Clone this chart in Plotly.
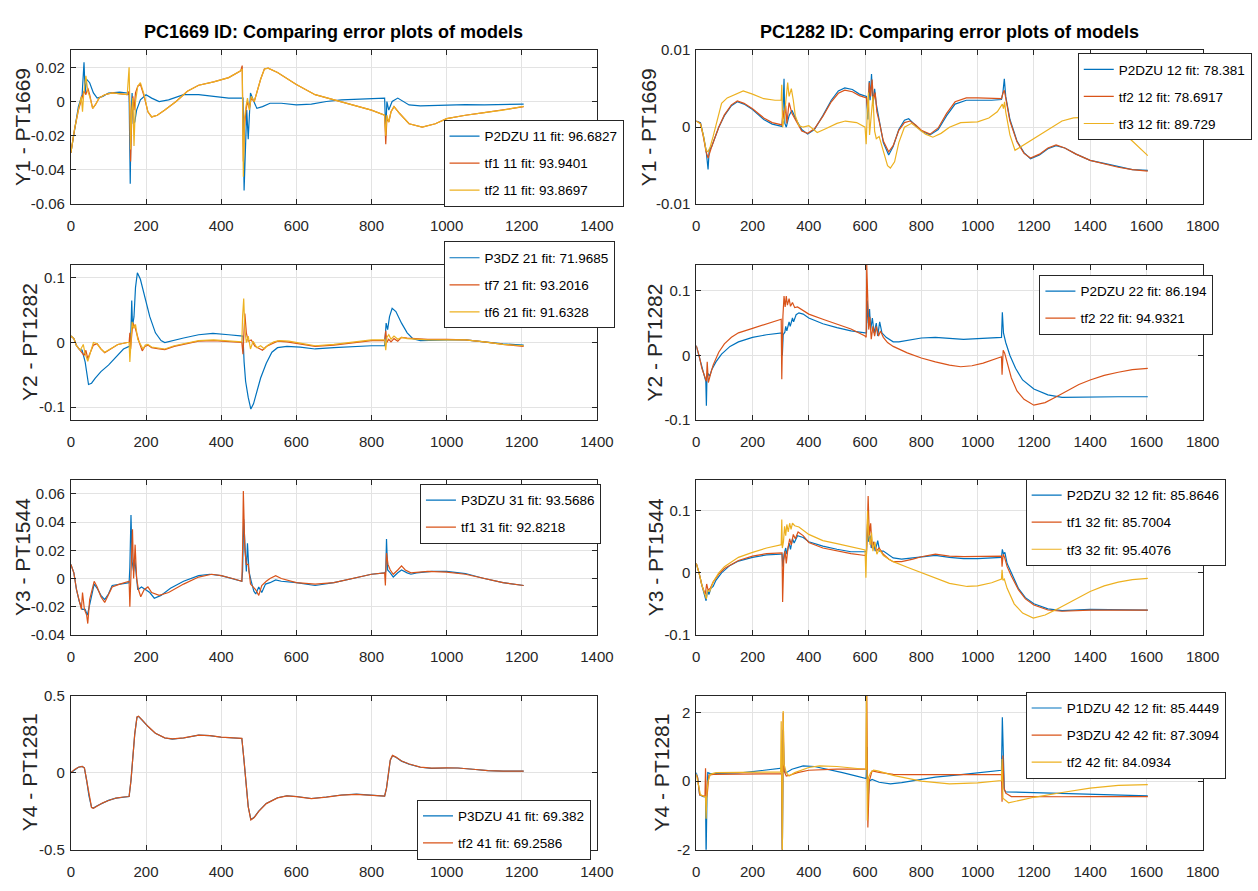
import plotly.graph_objects as go

# ---------------- tick labels ----------------
x_ticks_left = [0, 200, 400, 600, 800, 1000, 1200, 1400]
x_ticks_right = [0, 200, 400, 600, 800, 1000, 1200, 1400, 1600, 1800]
y1l_ticks = [-0.06, -0.04, -0.02, 0, 0.02]
y1l_text = ["-0.06", "-0.04", "-0.02", "0", "0.02"]
y1r_ticks = [-0.01, 0, 0.01]
y1r_text = ["-0.01", "0", "0.01"]
y2l_ticks = [-0.1, 0, 0.1]
y2l_text = ["-0.1", "0", "0.1"]
y2r_ticks = [-0.1, 0, 0.1]
y2r_text = ["-0.1", "0", "0.1"]
y3l_ticks = [-0.04, -0.02, 0, 0.02, 0.04, 0.06]
y3l_text = ["-0.04", "-0.02", "0", "0.02", "0.04", "0.06"]
y3r_ticks = [-0.1, 0, 0.1]
y3r_text = ["-0.1", "0", "0.1"]
y4l_ticks = [-0.5, 0, 0.5]
y4l_text = ["-0.5", "0", "0.5"]
y4r_ticks = [-2, 0, 2]
y4r_text = ["-2", "0", "2"]

# ---------------- Row 1 left : Y1 - PT1669 (PC1669) ----------------
r1l_p2dzu_x = [0, 10, 20, 30, 35, 38, 42, 50, 60, 70, 85, 100, 130, 150, 155, 158, 160, 163, 166, 170, 175, 185, 200, 215, 235, 260, 300, 340, 380, 420, 455, 458, 461, 464, 468, 472, 478, 485, 495, 510, 530, 560, 600, 640, 680, 720, 780, 835, 838, 841, 846, 855, 870, 885, 900, 930, 1000, 1050, 1100, 1150, 1205]
r1l_p2dzu_y = [-0.030, -0.015, -0.003, 0.004, 0.023, 0.005, 0.013, 0.011, 0.005, 0.002, 0.003, 0.005, 0.0055, 0.005, 0.004, -0.048, -0.010, 0.005, -0.013, -0.012, -0.005, 0.001, 0.004, 0.002, 0.000, 0.001, 0.004, 0.004, 0.003, 0.002, 0.002, 0.002, -0.052, -0.030, -0.005, -0.022, 0.005, 0.001, -0.004, -0.003, -0.001, -0.001, -0.002, -0.0015, 0.000, 0.001, 0.0015, 0.002, -0.018, 0.000, -0.005, 0.000, 0.002, 0.000, -0.002, -0.0025, -0.002, -0.0018, -0.002, -0.0017, -0.0015]
r1l_tf1_x = [0, 10, 20, 30, 35, 40, 45, 50, 58, 65, 75, 90, 110, 150, 155, 157, 159, 162, 165, 168, 172, 178, 185, 195, 205, 215, 230, 250, 280, 310, 340, 380, 420, 452, 456, 459, 462, 466, 470, 475, 480, 488, 495, 505, 515, 525, 550, 600, 650, 700, 750, 800, 835, 838, 841, 846, 852, 860, 875, 900, 935, 970, 1000, 1050, 1100, 1150, 1205]
r1l_tf1_y = [-0.030, -0.016, -0.005, 0.002, 0.006, 0.004, 0.008, 0.004, -0.004, -0.002, 0.002, 0.004, 0.005, 0.004, 0.006, -0.005, -0.035, -0.010, 0.003, -0.005, 0.005, 0.009, 0.010, 0.003, -0.006, -0.009, -0.008, -0.005, 0.000, 0.006, 0.0095, 0.0115, 0.014, 0.018, 0.021, -0.035, -0.015, -0.005, 0.000, -0.004, 0.002, 0.000, 0.006, 0.013, 0.019, 0.0195, 0.017, 0.010, 0.004, 0.001, -0.002, -0.005, -0.008, -0.025, -0.010, -0.012, -0.006, -0.003, -0.007, -0.013, -0.015, -0.013, -0.010, -0.008, -0.0065, -0.005, -0.003]
r1l_tf2_x = [0, 10, 20, 28, 31, 34, 40, 45, 50, 58, 65, 75, 90, 110, 150, 155, 157, 159, 162, 165, 168, 172, 178, 185, 195, 205, 215, 230, 250, 280, 310, 340, 380, 420, 452, 456, 459, 462, 466, 470, 475, 480, 488, 495, 505, 515, 525, 550, 600, 650, 700, 750, 800, 835, 838, 841, 846, 852, 860, 875, 900, 935, 970, 1000, 1050, 1100, 1150, 1205]
r1l_tf2_y = [-0.030, -0.016, -0.005, 0.003, -0.006, 0.004, 0.015, 0.006, 0.003, -0.004, -0.002, 0.002, 0.004, 0.005, 0.004, 0.020, -0.003, -0.028, -0.005, 0.002, -0.026, 0.000, 0.009, 0.011, 0.004, -0.006, -0.009, -0.008, -0.005, 0.000, 0.006, 0.0095, 0.0115, 0.014, 0.018, 0.019, -0.044, -0.010, -0.003, 0.002, -0.005, 0.003, 0.000, 0.006, 0.013, 0.019, 0.0195, 0.017, 0.010, 0.004, 0.001, -0.002, -0.005, -0.008, -0.020, -0.008, -0.012, -0.006, -0.003, -0.007, -0.013, -0.015, -0.013, -0.010, -0.008, -0.0065, -0.005, -0.0028]

# ---------------- Row 1 right : Y1 - PT1669 (PC1282) ----------------
r1r_p2dzu_x = [0, 15, 25, 35, 42, 46, 55, 65, 80, 100, 125, 146, 170, 200, 240, 270, 300, 305, 308, 312, 315, 320, 330, 340, 355, 375, 396, 420, 450, 480, 505, 528, 555, 580, 605, 610, 615, 618, 623, 628, 634, 640, 650, 665, 684, 700, 720, 740, 755, 775, 800, 831, 860, 890, 920, 960, 1000, 1050, 1085, 1090, 1095, 1100, 1115, 1140, 1165, 1188, 1220, 1250, 1279, 1310, 1350, 1400, 1450, 1500, 1550, 1605]
r1r_p2dzu_y = [0.0008, 0.0006, -0.001, -0.003, -0.0055, -0.003, -0.0025, -0.0015, 0.0, 0.0015, 0.0028, 0.0033, 0.003, 0.0023, 0.001, 0.0004, 0.0002, 0.0001, 0.002, 0.0063, 0.0005, 0.0, 0.0015, 0.0022, 0.001, -0.0003, -0.0009, -0.0003, 0.0015, 0.0035, 0.0047, 0.0051, 0.0049, 0.0043, 0.004, 0.001, 0.006, 0.0035, 0.0069, 0.003, 0.005, 0.003, 0.001, -0.002, -0.0036, -0.0025, -0.0003, 0.0009, 0.0011, 0.0004, -0.0005, -0.0010, -0.0003, 0.0015, 0.003, 0.0035, 0.0035, 0.0035, 0.0036, 0.0045, 0.0063, 0.004, 0.001, -0.0018, -0.0033, -0.0041, -0.0036, -0.0028, -0.0024, -0.0027, -0.0035, -0.0043, -0.0047, -0.0051, -0.0055, -0.0056]
r1r_tf2_x = [0, 15, 25, 35, 42, 46, 55, 65, 80, 100, 125, 146, 170, 200, 240, 270, 300, 305, 308, 312, 318, 322, 330, 340, 355, 375, 396, 420, 450, 480, 505, 528, 555, 580, 605, 610, 615, 620, 625, 630, 636, 642, 650, 665, 684, 700, 720, 740, 760, 780, 800, 831, 860, 890, 920, 960, 1000, 1050, 1085, 1090, 1095, 1100, 1115, 1140, 1165, 1188, 1220, 1250, 1279, 1310, 1350, 1400, 1450, 1500, 1550, 1605]
r1r_tf2_y = [0.0008, 0.0005, -0.0012, -0.0032, -0.004, -0.0035, -0.0025, -0.0015, 0.0, 0.0016, 0.0029, 0.0034, 0.0031, 0.0024, 0.0012, 0.0006, 0.0004, 0.0003, 0.0022, 0.001, 0.0028, 0.0005, 0.0032, 0.0018, 0.0008, -0.0005, -0.0008, -0.0002, 0.0014, 0.0033, 0.0044, 0.0048, 0.0046, 0.0041, 0.0038, 0.002, 0.0058, 0.004, 0.0062, 0.0035, 0.0045, 0.002, 0.0008, -0.0018, -0.0032, -0.0024, -0.0004, 0.0006, 0.0008, 0.0003, -0.0004, -0.0009, -0.0001, 0.0018, 0.0033, 0.0038, 0.0038, 0.0037, 0.0037, 0.0044, 0.0048, 0.0038, 0.0008, -0.0019, -0.0034, -0.0040, -0.0035, -0.0027, -0.0023, -0.0027, -0.0035, -0.0043, -0.0048, -0.0052, -0.0055, -0.0057]
r1r_tf3_x = [0, 15, 25, 35, 42, 50, 60, 75, 90, 110, 135, 167, 200, 240, 280, 302, 304, 307, 312, 318, 325, 330, 338, 345, 352, 365, 380, 400, 430, 460, 500, 530, 570, 600, 604, 608, 612, 616, 622, 628, 634, 640, 650, 665, 680, 690, 705, 720, 740, 765, 790, 815, 841, 870, 900, 940, 1000, 1040, 1070, 1088, 1092, 1096, 1100, 1115, 1133, 1160, 1200, 1250, 1300, 1341, 1400, 1450, 1500, 1550, 1605]
r1r_tf3_y = [0.0008, 0.0004, -0.001, -0.003, -0.0032, -0.0025, -0.0012, 0.001, 0.0031, 0.0038, 0.0042, 0.0047, 0.0043, 0.0037, 0.0035, 0.0035, 0.0055, 0.0, 0.001, 0.003, 0.0058, 0.004, 0.005, 0.0035, 0.0015, 0.0002, 0.0, 0.0002, -0.0007, -0.0002, 0.0005, 0.0008, 0.0006, 0.0, -0.0022, 0.002, 0.0045, -0.001, 0.002, 0.004, -0.0005, -0.0015, -0.0012, -0.003, -0.005, -0.0053, -0.0045, -0.002, 0.0, 0.0005, -0.0002, -0.0009, -0.0013, -0.0008, 0.0, 0.0006, 0.0007, 0.0012, 0.002, 0.003, 0.0024, 0.0033, 0.002, -0.001, -0.003, -0.0024, -0.0015, -0.0004, 0.0008, 0.0012, 0.0013, 0.001, -0.0002, -0.0018, -0.0037]

# ---------------- Row 2 left : Y2 - PT1282 (PC1669) ----------------
r2l_p3dz_x = [0, 8, 15, 22, 30, 38, 47, 55, 65, 80, 100, 120, 140, 155, 158, 160, 162, 164, 168, 172, 177, 185, 195, 210, 225, 240, 250, 275, 300, 340, 378, 420, 455, 458, 461, 465, 472, 479, 486, 495, 505, 520, 535, 550, 575, 610, 650, 700, 750, 800, 835, 837, 839, 843, 848, 855, 865, 880, 895, 910, 930, 1000, 1050, 1100, 1150, 1205]
r2l_p3dz_y = [0.010, 0.006, -0.005, -0.010, -0.012, -0.030, -0.065, -0.063, -0.055, -0.045, -0.035, -0.022, -0.010, -0.006, -0.005, 0.020, 0.065, 0.025, 0.040, 0.085, 0.108, 0.098, 0.075, 0.040, 0.015, 0.003, 0.000, 0.003, 0.007, 0.012, 0.014, 0.012, 0.010, 0.010, -0.030, -0.060, -0.085, -0.103, -0.095, -0.075, -0.055, -0.032, -0.015, -0.008, -0.006, -0.007, -0.010, -0.008, -0.006, -0.005, -0.005, 0.010, 0.030, 0.020, 0.040, 0.053, 0.048, 0.030, 0.015, 0.006, 0.003, 0.004, 0.004, 0.001, -0.002, -0.004]
r2l_tf7_x = [0, 8, 15, 25, 35, 40, 45, 52, 60, 70, 80, 90, 105, 125, 150, 155, 157, 159, 162, 165, 170, 176, 182, 190, 197, 205, 215, 235, 250, 275, 300, 340, 380, 420, 455, 458, 461, 463, 467, 472, 480, 490, 500, 510, 520, 535, 550, 575, 610, 650, 700, 750, 800, 835, 838, 841, 846, 852, 860, 870, 880, 895, 920, 950, 1000, 1050, 1100, 1150, 1205]
r2l_tf7_y = [0.010, 0.006, -0.005, -0.012, -0.020, -0.012, -0.025, -0.015, -0.004, -0.002, -0.010, -0.016, -0.010, -0.003, 0.000, 0.000, 0.015, -0.010, 0.012, 0.030, 0.025, 0.010, 0.000, -0.013, -0.006, -0.004, -0.008, -0.010, -0.011, -0.006, -0.003, 0.002, 0.003, 0.002, 0.000, -0.018, 0.030, 0.045, 0.015, 0.002, 0.004, -0.006, -0.009, -0.012, -0.006, -0.002, 0.002, 0.001, -0.002, -0.006, -0.004, 0.000, 0.003, 0.003, 0.018, 0.000, 0.005, 0.001, 0.006, 0.002, 0.008, 0.007, 0.006, 0.005, 0.005, 0.004, 0.001, -0.003, -0.006]
r2l_tf6_x = [0, 8, 15, 25, 33, 37, 45, 52, 60, 70, 80, 90, 105, 125, 150, 155, 157, 160, 163, 167, 172, 178, 185, 192, 198, 205, 215, 235, 250, 275, 300, 340, 380, 420, 455, 457, 460, 463, 467, 472, 478, 485, 495, 505, 515, 525, 540, 555, 580, 610, 650, 700, 750, 800, 835, 838, 841, 846, 852, 860, 870, 880, 895, 920, 950, 1000, 1050, 1100, 1150, 1205]
r2l_tf6_y = [0.010, 0.006, -0.005, -0.012, -0.003, -0.015, -0.029, -0.015, 0.000, -0.002, -0.010, -0.015, -0.010, -0.003, 0.000, 0.000, -0.030, 0.005, 0.032, 0.022, 0.028, 0.005, -0.003, -0.010, -0.004, -0.003, -0.007, -0.009, -0.010, -0.005, -0.002, 0.003, 0.004, 0.003, 0.001, 0.040, 0.068, 0.020, 0.000, 0.010, -0.010, 0.002, -0.008, -0.005, -0.010, -0.004, 0.001, 0.003, 0.002, -0.001, -0.005, -0.003, 0.001, 0.004, 0.004, -0.012, 0.008, 0.012, 0.005, 0.010, 0.005, 0.008, 0.006, 0.005, 0.004, 0.004, 0.004, 0.001, -0.003, -0.005]

# ---------------- Row 2 right : Y2 - PT1282 (PC1282) ----------------
r2r_p2dzu_x = [0, 10, 20, 30, 34, 36, 38, 42, 48, 55, 70, 90, 120, 150, 200, 250, 300, 304, 306, 309, 315, 318, 322, 330, 334, 342, 346, 355, 365, 380, 400, 450, 500, 550, 600, 605, 608, 612, 616, 620, 626, 632, 640, 645, 652, 660, 675, 700, 720, 760, 800, 850, 900, 950, 1000, 1050, 1085, 1088, 1092, 1100, 1115, 1135, 1160, 1200, 1250, 1300, 1400, 1500, 1605]
r2r_p2dzu_y = [0.015, 0.000, -0.018, -0.033, -0.040, -0.078, -0.035, -0.028, -0.032, -0.022, -0.010, 0.002, 0.014, 0.021, 0.028, 0.032, 0.034, 0.035, 0.000, 0.032, 0.036, 0.045, 0.038, 0.052, 0.045, 0.058, 0.052, 0.063, 0.066, 0.064, 0.058, 0.049, 0.043, 0.038, 0.035, 0.035, 0.085, 0.050, 0.072, 0.040, 0.058, 0.035, 0.050, 0.030, 0.052, 0.035, 0.028, 0.021, 0.021, 0.024, 0.027, 0.028, 0.026, 0.025, 0.026, 0.027, 0.028, 0.067, 0.035, 0.020, 0.000, -0.020, -0.038, -0.052, -0.061, -0.065, -0.064, -0.064, -0.064]
r2r_tf2_x = [0, 10, 20, 32, 36, 39, 43, 50, 60, 80, 100, 125, 150, 200, 250, 300, 302, 304, 308, 312, 316, 320, 324, 330, 335, 342, 350, 360, 380, 400, 450, 500, 550, 600, 604, 606, 610, 613, 617, 622, 628, 634, 640, 648, 655, 665, 680, 700, 750, 800, 850, 900, 940, 980, 1020, 1060, 1085, 1087, 1091, 1096, 1105, 1120, 1140, 1165, 1200, 1240, 1280, 1320, 1360, 1400, 1450, 1500, 1550, 1605]
r2r_tf2_y = [0.015, 0.000, -0.020, -0.036, -0.040, -0.010, -0.042, -0.030, -0.015, 0.005, 0.018, 0.028, 0.035, 0.042, 0.049, 0.056, 0.056, -0.037, 0.060, 0.092, 0.075, 0.092, 0.078, 0.088, 0.076, 0.082, 0.074, 0.075, 0.069, 0.064, 0.056, 0.049, 0.041, 0.030, 0.028, 0.140, 0.080, 0.040, 0.060, 0.025, 0.045, 0.030, 0.045, 0.030, 0.038, 0.028, 0.020, 0.014, 0.004, -0.004, -0.010, -0.015, -0.0175, -0.016, -0.012, -0.006, -0.002, -0.030, 0.008, 0.004, -0.010, -0.035, -0.055, -0.068, -0.077, -0.073, -0.064, -0.054, -0.045, -0.038, -0.031, -0.026, -0.022, -0.020]

# ---------------- Row 3 left : Y3 - PT1544 (PC1669) ----------------
r3l_p3dzu_x = [0, 8, 15, 22, 30, 38, 44, 50, 56, 62, 70, 80, 90, 100, 110, 130, 155, 157, 160, 163, 167, 170, 174, 178, 188, 200, 210, 222, 240, 265, 300, 340, 370, 400, 430, 455, 457, 460, 464, 467, 470, 474, 480, 487, 492, 500, 508, 518, 530, 545, 560, 600, 650, 700, 750, 800, 835, 838, 840, 843, 850, 858, 870, 880, 895, 905, 920, 960, 1000, 1050, 1100, 1150, 1205]
r3l_p3dzu_y = [0.010, 0.004, -0.008, -0.016, -0.022, -0.022, -0.026, -0.018, -0.010, -0.004, -0.007, -0.012, -0.015, -0.011, -0.005, -0.004, -0.003, 0.008, 0.045, 0.012, 0.005, 0.014, 0.000, -0.008, -0.006, -0.008, -0.010, -0.014, -0.012, -0.007, -0.002, 0.002, 0.003, 0.002, 0.000, -0.002, 0.005, 0.042, 0.020, 0.005, 0.025, 0.005, -0.002, -0.009, -0.011, -0.006, -0.010, -0.004, -0.003, -0.001, -0.002, -0.003, -0.005, -0.003, 0.000, 0.003, 0.004, 0.005, 0.028, 0.006, 0.004, 0.001, 0.004, 0.006, 0.004, 0.003, 0.004, 0.005, 0.005, 0.0035, 0.000, -0.003, -0.005]
r3l_tf1_x = [0, 8, 15, 22, 28, 31, 36, 42, 45, 50, 56, 62, 70, 80, 90, 100, 110, 130, 155, 157, 160, 164, 167, 171, 175, 180, 186, 195, 205, 215, 235, 260, 300, 340, 375, 400, 430, 455, 457, 459, 463, 467, 472, 478, 485, 492, 500, 508, 520, 530, 545, 560, 600, 650, 700, 750, 800, 835, 837, 840, 844, 850, 858, 870, 880, 890, 905, 950, 1000, 1050, 1100, 1150, 1205]
r3l_tf1_y = [0.010, 0.004, -0.008, -0.016, -0.022, -0.010, -0.022, -0.026, -0.032, -0.015, -0.008, -0.002, -0.006, -0.013, -0.017, -0.012, -0.006, -0.004, -0.002, -0.020, 0.000, 0.035, 0.000, 0.024, 0.000, -0.008, -0.013, -0.008, -0.006, -0.010, -0.012, -0.010, -0.004, 0.001, 0.003, 0.002, 0.000, -0.002, 0.020, 0.062, 0.020, 0.010, 0.010, -0.004, -0.006, -0.008, -0.012, -0.005, -0.002, 0.000, 0.002, 0.000, -0.003, -0.004, -0.003, 0.000, 0.003, 0.004, -0.005, 0.018, 0.010, 0.006, 0.003, 0.006, 0.009, 0.006, 0.004, 0.005, 0.0045, 0.003, 0.000, -0.003, -0.005]

# ---------------- Row 3 right : Y3 - PT1544 (PC1282) ----------------
r3r_p2dzu_x = [0, 10, 20, 30, 35, 40, 45, 52, 60, 70, 90, 120, 150, 200, 250, 300, 305, 308, 312, 318, 322, 330, 335, 342, 348, 360, 380, 400, 450, 500, 550, 600, 605, 609, 613, 618, 622, 630, 636, 645, 652, 665, 685, 700, 730, 770, 800, 850, 900, 950, 1000, 1050, 1085, 1088, 1092, 1097, 1105, 1120, 1145, 1170, 1200, 1250, 1300, 1400, 1500, 1605]
r3r_p2dzu_y = [0.015, 0.000, -0.020, -0.035, -0.045, -0.028, -0.035, -0.025, -0.022, -0.012, 0.000, 0.012, 0.019, 0.025, 0.029, 0.030, 0.030, 0.010, 0.030, 0.040, 0.030, 0.048, 0.038, 0.055, 0.048, 0.060, 0.057, 0.050, 0.043, 0.038, 0.034, 0.034, 0.035, 0.080, 0.050, 0.060, 0.040, 0.050, 0.035, 0.052, 0.035, 0.035, 0.028, 0.024, 0.022, 0.024, 0.026, 0.028, 0.025, 0.023, 0.023, 0.024, 0.025, 0.038, 0.030, 0.033, 0.015, 0.000, -0.025, -0.040, -0.050, -0.058, -0.061, -0.059, -0.059, -0.060]
r3r_tf1_x = [0, 10, 20, 32, 37, 42, 50, 60, 80, 100, 150, 200, 250, 300, 305, 307, 311, 316, 320, 326, 332, 338, 345, 352, 362, 380, 400, 450, 500, 550, 600, 605, 608, 611, 615, 620, 625, 632, 640, 650, 665, 685, 700, 730, 770, 800, 850, 900, 950, 1000, 1050, 1085, 1087, 1091, 1096, 1105, 1120, 1145, 1170, 1200, 1250, 1300, 1400, 1500, 1605]
r3r_tf1_y = [0.015, 0.000, -0.020, -0.035, -0.018, -0.028, -0.025, -0.015, -0.002, 0.007, 0.020, 0.027, 0.031, 0.032, 0.032, -0.047, 0.020, 0.035, 0.015, 0.040, 0.055, 0.045, 0.062, 0.055, 0.066, 0.060, 0.049, 0.040, 0.035, 0.031, 0.028, 0.030, 0.070, 0.124, 0.060, 0.080, 0.040, 0.050, 0.035, 0.040, 0.030, 0.022, 0.018, 0.018, 0.022, 0.026, 0.030, 0.027, 0.026, 0.026, 0.026, 0.027, 0.010, 0.030, 0.025, 0.010, -0.005, -0.027, -0.042, -0.052, -0.060, -0.062, -0.060, -0.060, -0.060]
r3r_tf3_x = [0, 10, 20, 32, 36, 40, 48, 60, 80, 100, 150, 200, 250, 300, 302, 304, 306, 310, 314, 318, 322, 327, 332, 337, 342, 350, 365, 400, 450, 500, 550, 600, 603, 606, 609, 613, 618, 623, 628, 635, 642, 650, 665, 685, 700, 750, 800, 850, 900, 963, 1000, 1050, 1085, 1087, 1090, 1095, 1105, 1130, 1160, 1198, 1240, 1280, 1320, 1360, 1400, 1450, 1500, 1550, 1605]
r3r_tf3_y = [0.015, 0.000, -0.020, -0.038, -0.042, -0.028, -0.030, -0.015, 0.000, 0.010, 0.025, 0.033, 0.040, 0.045, 0.045, 0.086, 0.040, 0.050, 0.075, 0.060, 0.078, 0.066, 0.080, 0.070, 0.080, 0.076, 0.074, 0.062, 0.052, 0.047, 0.042, 0.037, -0.008, 0.050, 0.100, 0.060, 0.045, 0.065, 0.035, 0.050, 0.030, 0.038, 0.028, 0.022, 0.018, 0.009, 0.000, -0.008, -0.017, -0.022, -0.021, -0.016, -0.010, 0.005, -0.012, -0.010, -0.025, -0.050, -0.065, -0.073, -0.068, -0.059, -0.049, -0.039, -0.030, -0.021, -0.015, -0.011, -0.009]

# ---------------- Row 4 left : Y4 - PT1281 (PC1669) ----------------
r4l_p3dzu_x = [0, 10, 20, 30, 36, 42, 48, 55, 60, 70, 85, 100, 120, 140, 155, 160, 165, 170, 176, 180, 190, 205, 225, 250, 270, 300, 340, 370, 400, 430, 455, 460, 465, 472, 479, 488, 500, 520, 550, 575, 600, 640, 680, 720, 760, 800, 835, 840, 845, 850, 856, 865, 880, 900, 930, 960, 1000, 1030, 1070, 1110, 1150, 1205]
r4l_p3dzu_y = [0.000, 0.020, 0.035, 0.040, 0.030, -0.050, -0.150, -0.225, -0.230, -0.215, -0.195, -0.180, -0.165, -0.158, -0.155, -0.050, 0.100, 0.250, 0.360, 0.365, 0.340, 0.300, 0.255, 0.225, 0.218, 0.225, 0.243, 0.240, 0.230, 0.225, 0.222, 0.100, -0.050, -0.220, -0.305, -0.290, -0.250, -0.200, -0.163, -0.150, -0.155, -0.168, -0.158, -0.145, -0.140, -0.145, -0.152, -0.100, 0.000, 0.080, 0.110, 0.100, 0.075, 0.055, 0.035, 0.028, 0.030, 0.030, 0.022, 0.013, 0.010, 0.010]
r4l_tf2_x = [0, 10, 20, 30, 36, 42, 48, 55, 60, 70, 85, 100, 120, 140, 155, 160, 165, 170, 176, 180, 190, 205, 225, 250, 270, 300, 340, 370, 400, 430, 455, 460, 465, 472, 479, 488, 500, 520, 550, 575, 600, 640, 680, 720, 760, 800, 835, 840, 845, 850, 856, 865, 880, 900, 930, 960, 1000, 1030, 1070, 1110, 1150, 1205]
r4l_tf2_y = [0.000, 0.021, 0.035, 0.041, 0.031, -0.050, -0.152, -0.226, -0.231, -0.216, -0.196, -0.181, -0.165, -0.158, -0.155, -0.050, 0.100, 0.252, 0.362, 0.367, 0.341, 0.301, 0.256, 0.226, 0.219, 0.226, 0.244, 0.241, 0.231, 0.226, 0.223, 0.100, -0.052, -0.222, -0.307, -0.291, -0.251, -0.201, -0.164, -0.151, -0.156, -0.169, -0.159, -0.146, -0.141, -0.146, -0.153, -0.100, 0.000, 0.082, 0.112, 0.101, 0.076, 0.056, 0.036, 0.029, 0.031, 0.030, 0.022, 0.013, 0.010, 0.010]

# ---------------- Row 4 right : Y4 - PT1281 (PC1282) ----------------
r4r_p1dzu_x = [0, 5, 12, 25, 33, 35, 38, 41, 50, 100, 150, 200, 250, 300, 303, 306, 309, 312, 320, 340, 380, 420, 470, 520, 570, 600, 604, 607, 610, 614, 625, 650, 690, 730, 780, 850, 950, 1050, 1085, 1088, 1091, 1095, 1100, 1150, 1250, 1350, 1450, 1550, 1605]
r4r_p1dzu_y = [0.25, 0.10, -0.40, -0.45, -0.45, -2.20, -0.50, 0.25, 0.22, 0.22, 0.24, 0.28, 0.33, 0.38, 0.38, -2.20, 1.50, 0.30, 0.25, 0.35, 0.45, 0.43, 0.35, 0.25, 0.15, 0.10, 0.08, 1.00, -0.80, 0.00, 0.05, -0.03, -0.08, -0.04, 0.03, 0.12, 0.20, 0.28, 0.32, 1.87, 0.50, -0.25, -0.31, -0.32, -0.34, -0.36, -0.39, -0.42, -0.43]
r4r_p3dzu_x = [0, 5, 12, 25, 31, 33, 36, 40, 45, 60, 100, 200, 300, 304, 306, 309, 312, 320, 335, 360, 400, 450, 500, 600, 604, 606, 610, 615, 625, 650, 700, 750, 850, 950, 1050, 1085, 1087, 1090, 1094, 1100, 1120, 1200, 1300, 1400, 1500, 1605]
r4r_p3dzu_y = [0.20, 0.10, -0.40, -0.45, -0.45, 0.38, -0.50, -0.30, 0.18, 0.20, 0.20, 0.20, 0.22, 0.22, -2.20, 2.00, 0.30, 0.15, 0.18, 0.25, 0.32, 0.34, 0.35, 0.35, 0.35, 2.70, -1.35, 0.00, 0.30, 0.26, 0.20, 0.19, 0.19, 0.20, 0.20, 0.20, -0.60, 0.75, -0.20, -0.35, -0.45, -0.46, -0.455, -0.45, -0.45, -0.45]
r4r_tf2_x = [0, 5, 15, 30, 33, 35, 38, 42, 50, 70, 100, 200, 300, 302, 304, 306, 309, 312, 320, 330, 350, 400, 438, 500, 600, 603, 605, 608, 612, 620, 630, 645, 700, 800, 900, 950, 1000, 1085, 1087, 1090, 1100, 1110, 1150, 1200, 1300, 1400, 1500, 1605]
r4r_tf2_y = [0.20, 0.00, -0.40, -0.45, -0.45, -1.10, -0.30, 0.00, 0.20, 0.25, 0.25, 0.26, 0.27, 1.75, 0.27, -2.20, 2.05, 0.50, 0.25, 0.15, 0.25, 0.40, 0.45, 0.43, 0.35, 0.35, 2.70, -1.15, 0.10, 0.25, 0.32, 0.30, 0.17, 0.00, -0.08, -0.07, -0.05, 0.02, 0.65, -0.50, -0.58, -0.63, -0.56, -0.47, -0.33, -0.20, -0.12, -0.10]

# ---------------- styling ----------------
BLUE = "#0072BD"
ORANGE = "#D95319"
YELLOW = "#EDB120"
AXC = "#262626"
GRID = "#e3e3e3"
FONT = "Liberation Sans, Arial, sans-serif"
W, H = 1258, 891

col_px = [(68, 603), (704, 1219)]
row_px = [(42, 199), (261, 419), (480, 638), (700, 857)]

panels = [
    dict(r=0, c=0, yt="Y1 - PT1669", ytx=19, yr=[-0.06, 0.03], tv=y1l_ticks, tt=y1l_text, leg=(447, 113),
         s=[("P2DZU 11 fit: 96.6827", BLUE, r1l_p2dzu_x, r1l_p2dzu_y),
            ("tf1 11 fit: 93.9401", ORANGE, r1l_tf1_x, r1l_tf1_y),
            ("tf2 11 fit: 93.8697", YELLOW, r1l_tf2_x, r1l_tf2_y)]),
    dict(r=0, c=1, yt="Y1 - PT1669", ytx=655, yr=[-0.01, 0.01], tv=y1r_ticks, tt=y1r_text, leg=(1092, 45),
         s=[("P2DZU 12 fit: 78.381", BLUE, r1r_p2dzu_x, r1r_p2dzu_y),
            ("tf2 12 fit: 78.6917", ORANGE, r1r_tf2_x, r1r_tf2_y),
            ("tf3 12 fit: 89.729", YELLOW, r1r_tf3_x, r1r_tf3_y)]),
    dict(r=1, c=0, yt="Y2 - PT1282", ytx=26, yr=[-0.12, 0.12], tv=y2l_ticks, tt=y2l_text, leg=(447, 237),
         s=[("P3DZ 21 fit: 71.9685", BLUE, r2l_p3dz_x, r2l_p3dz_y),
            ("tf7 21 fit: 93.2016", ORANGE, r2l_tf7_x, r2l_tf7_y),
            ("tf6 21 fit: 91.6328", YELLOW, r2l_tf6_x, r2l_tf6_y)]),
    dict(r=1, c=1, yt="Y2 - PT1282", ytx=662, yr=[-0.1, 0.14], tv=y2r_ticks, tt=y2r_text, leg=(1053, 271),
         s=[("P2DZU 22 fit: 86.194", BLUE, r2r_p2dzu_x, r2r_p2dzu_y),
            ("tf2 22 fit: 94.9321", ORANGE, r2r_tf2_x, r2r_tf2_y)]),
    dict(r=2, c=0, yt="Y3 - PT1544", ytx=19, yr=[-0.04, 0.07], tv=y3l_ticks, tt=y3l_text, leg=(423, 484),
         s=[("P3DZU 31 fit: 93.5686", BLUE, r3l_p3dzu_x, r3l_p3dzu_y),
            ("tf1 31 fit: 92.8218", ORANGE, r3l_tf1_x, r3l_tf1_y)]),
    dict(r=2, c=1, yt="Y3 - PT1544", ytx=662, yr=[-0.1, 0.15], tv=y3r_ticks, tt=y3r_text, leg=(1039, 479),
         s=[("P2DZU 32 12 fit: 85.8646", BLUE, r3r_p2dzu_x, r3r_p2dzu_y),
            ("tf1 32 fit: 85.7004", ORANGE, r3r_tf1_x, r3r_tf1_y),
            ("tf3 32 fit: 95.4076", YELLOW, r3r_tf3_x, r3r_tf3_y)]),
    dict(r=3, c=0, yt="Y4 - PT1281", ytx=26, yr=[-0.5, 0.5], tv=y4l_ticks, tt=y4l_text, leg=(420, 806),
         s=[("P3DZU 41 fit: 69.382", BLUE, r4l_p3dzu_x, r4l_p3dzu_y),
            ("tf2 41 fit: 69.2586", ORANGE, r4l_tf2_x, r4l_tf2_y)]),
    dict(r=3, c=1, yt="Y4 - PT1281", ytx=669, yr=[-2, 2.5], tv=y4r_ticks, tt=y4r_text, leg=(1039, 696),
         s=[("P1DZU 42 12 fit: 85.4449", BLUE, r4r_p1dzu_x, r4r_p1dzu_y),
            ("P3DZU 42 42 fit: 87.3094", ORANGE, r4r_p3dzu_x, r4r_p3dzu_y),
            ("tf2 42 fit: 84.0934", YELLOW, r4r_tf2_x, r4r_tf2_y)]),
]

fig = go.Figure()
layout = dict(
    width=W, height=H,
    margin=dict(l=0, r=0, t=0, b=0),
    paper_bgcolor="white", plot_bgcolor="white",
    showlegend=True,
    font=dict(family=FONT, color=AXC),
)
annotations = []

for i, p in enumerate(panels):
    n = i + 1
    sfx = "" if n == 1 else str(n)
    x0, x1 = col_px[p["c"]]
    t0, b0 = row_px[p["r"]]
    xmax = 1400 if p["c"] == 0 else 1800
    xt = x_ticks_left if p["c"] == 0 else x_ticks_right
    legname = "legend" + sfx
    for k, (name, col, xs, ys) in enumerate(p["s"]):
        fig.add_trace(go.Scatter(
            x=xs, y=ys, mode="lines", name=name,
            line=dict(color=col, width=1.2),
            xaxis="x" + sfx, yaxis="y" + sfx,
            legend=legname, legendgroup=f"g{n}_{k}",
        ))
    layout["xaxis" + sfx] = dict(
        domain=[x0 / W, x1 / W], anchor="y" + sfx, range=[0, xmax],
        tickvals=xt, ticktext=[str(v) for v in xt],
        showgrid=True, gridcolor=GRID, gridwidth=1, zeroline=False,
        showline=True, linecolor=AXC, linewidth=1, mirror="ticks",
        ticks="inside", ticklen=5, tickcolor=AXC,
        tickfont=dict(family=FONT, size=15, color=AXC), ticklabelstandoff=8,
    )
    layout["yaxis" + sfx] = dict(
        domain=[1 - b0 / H, 1 - t0 / H], anchor="x" + sfx, range=p["yr"],
        tickvals=p["tv"], ticktext=p["tt"],
        showgrid=True, gridcolor=GRID, gridwidth=1, zeroline=False,
        showline=True, linecolor=AXC, linewidth=1, mirror="ticks",
        ticks="inside", ticklen=5, tickcolor=AXC,
        tickfont=dict(family=FONT, size=15, color=AXC), ticklabelstandoff=2,
    )
    annotations.append(dict(
        text=p["yt"], textangle=-90, x=p["ytx"] / W, y=1 - (t0 + b0) / 2 / H,
        xref="paper", yref="paper", showarrow=False, xanchor="center", yanchor="middle",
        font=dict(family=FONT, size=21, color=AXC)))
    lx, ly = p["leg"]
    layout[legname] = dict(
        x=lx / W, y=1 - ly / H, xanchor="left", yanchor="top",
        xref="paper", yref="paper",
        bgcolor="white", bordercolor=AXC, borderwidth=1,
        font=dict(family=FONT, size=13.5, color="#000000"),
        tracegroupgap=6.5, itemwidth=30,
    )

annotations += [
    dict(text="<b>PC1669 ID: Comparing error plots of models</b>", x=335.5 / W, y=1 - 23 / H,
         xref="paper", yref="paper", showarrow=False, xanchor="center", yanchor="middle",
         font=dict(family=FONT, size=18, color="#000000")),
    dict(text="<b>PC1282 ID: Comparing error plots of models</b>", x=961.5 / W, y=1 - 23 / H,
         xref="paper", yref="paper", showarrow=False, xanchor="center", yanchor="middle",
         font=dict(family=FONT, size=18, color="#000000")),
]
layout["annotations"] = annotations

fig.update_layout(**layout)
fig.write_html("out.html")
